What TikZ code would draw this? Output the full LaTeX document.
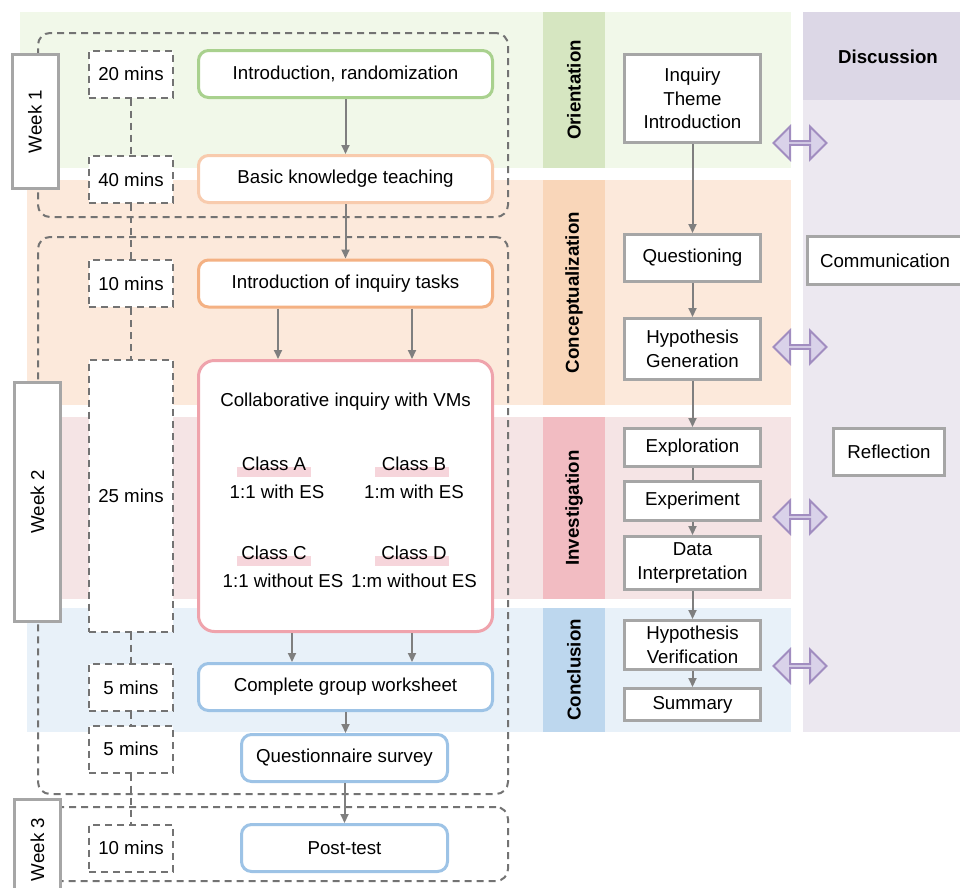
\documentclass[tikz,border=0pt]{standalone}
\usepackage{fontspec}
\setmainfont{Liberation Sans}
\usetikzlibrary{arrows.meta,shapes.arrows}

\definecolor{bandgreen}{HTML}{F1F8E9}
\definecolor{bandorange}{HTML}{FCE9DB}
\definecolor{bandpink}{HTML}{F5E4E5}
\definecolor{bandblue}{HTML}{E8F1F9}
\definecolor{stgreen}{HTML}{D6E6C1}
\definecolor{storange}{HTML}{F9D6B9}
\definecolor{stpink}{HTML}{F2BCC2}
\definecolor{stblue}{HTML}{BDD7EE}
\definecolor{purplehead}{HTML}{DCD7E6}
\definecolor{purplecol}{HTML}{ECE8F0}
\definecolor{edgegreen}{HTML}{A9D18E}
\definecolor{edgepeach}{HTML}{F8CBAD}
\definecolor{edgeorange}{HTML}{F4B183}
\definecolor{edgepink}{HTML}{EFA3AC}
\definecolor{edgeblue}{HTML}{9DC3E6}
\definecolor{dashgray}{HTML}{737373}
\definecolor{arrowgray}{HTML}{7F7F7F}
\definecolor{boxgray}{HTML}{A6A6A6}
\definecolor{talkline}{HTML}{A18DC0}
\definecolor{talkfill}{HTML}{D9D2E9}
\definecolor{hlpink}{HTML}{F6D5DB}

\newcommand{\basefont}{\fontsize{18.7}{23.5}\selectfont}

\begin{document}
\begin{tikzpicture}[x=1pt,y=-1pt,font=\basefont,
  >={Triangle[length=9pt,width=8pt]},
  task/.style={draw=#1,line width=3pt,rounded corners=10pt,fill=white,
    minimum width=294pt,minimum height=47pt,inner sep=0pt},
  timebox/.style={draw=dashgray,line width=2pt,dash pattern=on 7pt off 5pt,
    fill=white,minimum width=84pt,minimum height=47pt,inner sep=0pt},
  weekframe/.style={draw=dashgray,line width=2pt,dash pattern=on 7pt off 5pt,
    rounded corners=12pt,minimum width=470pt,inner sep=0pt},
  weeklabel/.style={draw=boxgray,line width=3pt,fill=white,rotate=90,
    minimum height=46pt,inner sep=0pt},
  stage/.style={rotate=90,minimum height=62pt,inner sep=0pt,
    font=\basefont\bfseries},
  phase/.style={draw=boxgray,line width=3pt,fill=white,align=center,
    minimum width=136pt,inner sep=0pt},
  talk/.style={double arrow,draw=talkline,fill=talkfill,line width=2pt,
    minimum height=53pt,minimum width=33pt,double arrow head extend=8pt,
    double arrow head indent=0pt,inner sep=0pt},
  flow/.style={->,draw=arrowgray,line width=2pt},
  tieline/.style={draw=dashgray,line width=2pt,dash pattern=on 7pt off 5pt}]

\useasboundingbox (0,0) rectangle (960,887);
\clip (0,0) rectangle (960,887);

% phase bands
\fill[bandgreen] (20,12) rectangle (791,168);
\fill[bandorange] (27,180) rectangle (791,405);
\fill[bandpink] (27,417) rectangle (791,599);
\fill[bandblue] (27,608) rectangle (791,732);
\fill[purplecol] (803,12) rectangle (960,732);
\fill[purplehead] (803,12) rectangle (960,100);

\node[stage,fill=stgreen,minimum width=156pt] (orient) at (574,90) {Orientation};
\node[stage,fill=storange,minimum width=225pt] (concept) at (574,292.5) {Conceptualization};
\node[stage,fill=stpink,minimum width=182pt] (investig) at (574,508) {Investigation};
\node[stage,fill=stblue,minimum width=124pt] (conclu) at (574,670) {Conclusion};

% week frames
\node[weekframe,minimum height=184pt] (w1frame) at (273,125) {};
\node[weekframe,minimum height=557pt] (w2frame) at (273,515.5) {};
\node[weekframe,minimum height=74pt] (w3frame) at (273,844) {};

% time boxes
\node[timebox] (m20) at (131,74) {20 mins};
\node[timebox] (m40) at (131,179.5) {40 mins};
\node[timebox] (m10) at (131,283.5) {10 mins};
\node[timebox,minimum height=272pt] (m25) at (131,495.5) {25 mins};
\node[timebox] (m5a) at (131,687.5) {5 mins};
\node[timebox] (m5b) at (131,749) {5 mins};
\node[timebox] (m10b) at (131,848) {10 mins};

\draw[tieline] (m20) -- (m40);
\draw[tieline] (m40) -- (m10);
\draw[tieline] (m10) -- (m25);
\draw[tieline] (m25) -- (m5a);
\draw[tieline] (m5a) -- (m5b);
\draw[tieline] (m5b) -- (m10b);

% activities
\node[task=edgegreen] (intro) at (345.5,74) {Introduction, randomization};
\node[task=edgepeach] (basic) at (345.5,179) {Basic knowledge teaching};
\node[task=edgeorange] (tasks) at (345.5,283.5) {Introduction of inquiry tasks};
\node[task=edgepink,minimum height=271pt,rounded corners=16pt] (collab) at (345.5,496) {};
\node[task=edgeblue] (worksheet) at (345.5,687) {Complete group worksheet};
\node[task=edgeblue,minimum width=206pt] (survey) at (344.5,758) {Questionnaire survey};
\node[task=edgeblue,minimum width=206pt] (posttest) at (344.5,848) {Post-test};

\node (collabtitle) at (345.5,402) {Collaborative inquiry with VMs};
\fill[hlpink] (237,467) rectangle (311,477);
\fill[hlpink] (375,467) rectangle (449,477);
\fill[hlpink] (237,556) rectangle (311,566);
\fill[hlpink] (375,556) rectangle (449,566);
\node (classa) at (274,464) {Class A};
\node (classb) at (414,464) {Class B};
\node (classc) at (274,553) {Class C};
\node (classd) at (414,553) {Class D};
\node (modea) at (277,492) {1:1 with ES};
\node (modeb) at (414,492) {1:m with ES};
\node (modec) at (283,581) {1:1 without ES};
\node (moded) at (414,581) {1:m without ES};

\draw[flow] (intro) -- (basic);
\draw[flow] (basic) -- (tasks);
\draw[flow] ([xshift=-67.5pt]tasks.south) -- ([xshift=-67.5pt]collab.north);
\draw[flow] ([xshift=66.5pt]tasks.south) -- ([xshift=66.5pt]collab.north);
\draw[flow] ([xshift=-53.5pt]collab.south) -- ([xshift=-53.5pt]worksheet.north);
\draw[flow] ([xshift=66.5pt]collab.south) -- ([xshift=66.5pt]worksheet.north);
\draw[flow] (worksheet.south) -- (worksheet.south |- survey.north);
\draw[flow] (survey) -- (posttest);

% week labels
\node[weeklabel,minimum width=134pt] (week1) at (35,121.5) {Week 1};
\node[weeklabel,minimum width=239pt] (week2) at (37.5,502) {Week 2};
\node[weeklabel,minimum width=100pt] (week3) at (37.5,849.5) {Week 3};

% inquiry phases
\node[phase,minimum height=88pt] (theme) at (692.5,98.5) {Inquiry\\Theme\\Introduction};
\node[phase,minimum height=47pt] (question) at (692.5,258) {Questioning};
\node[phase,minimum height=61pt] (hypgen) at (692.5,349) {Hypothesis\\Generation};
\node[phase,minimum height=38pt] (explore) at (692.5,447.5) {Exploration};
\node[phase,minimum height=39pt] (experiment) at (692.5,501) {Experiment};
\node[phase,minimum height=53pt] (datainter) at (692.5,563) {Data\\Interpretation};
\node[phase,minimum height=49pt] (hypver) at (692.5,645) {Hypothesis\\Verification};
\node[phase,minimum height=32pt] (summary) at (692.5,704.5) {Summary};

\draw[flow] (theme) -- (question);
\draw[flow] (question) -- (hypgen);
\draw[flow] (hypgen) -- (explore);
\draw[draw=arrowgray,line width=2pt] (explore) -- (experiment);
\draw[flow] (experiment) -- (datainter);
\draw[flow] (datainter) -- (hypver);
\draw[flow] (hypver) -- (summary);

% discussion
\node[font=\basefont\bfseries] (discuss) at (888,57) {Discussion};
\node[phase,minimum width=155pt,minimum height=48pt] (communic) at (885,260.5) {Communication};
\node[phase,minimum width=111pt,minimum height=47pt] (reflect) at (889,452) {Reflection};

\node[talk] (talk1) at (800,143) {};
\node[talk] (talk2) at (800,347) {};
\node[talk] (talk3) at (800,517) {};
\node[talk] (talk4) at (800,666) {};

\end{tikzpicture}
\end{document}
